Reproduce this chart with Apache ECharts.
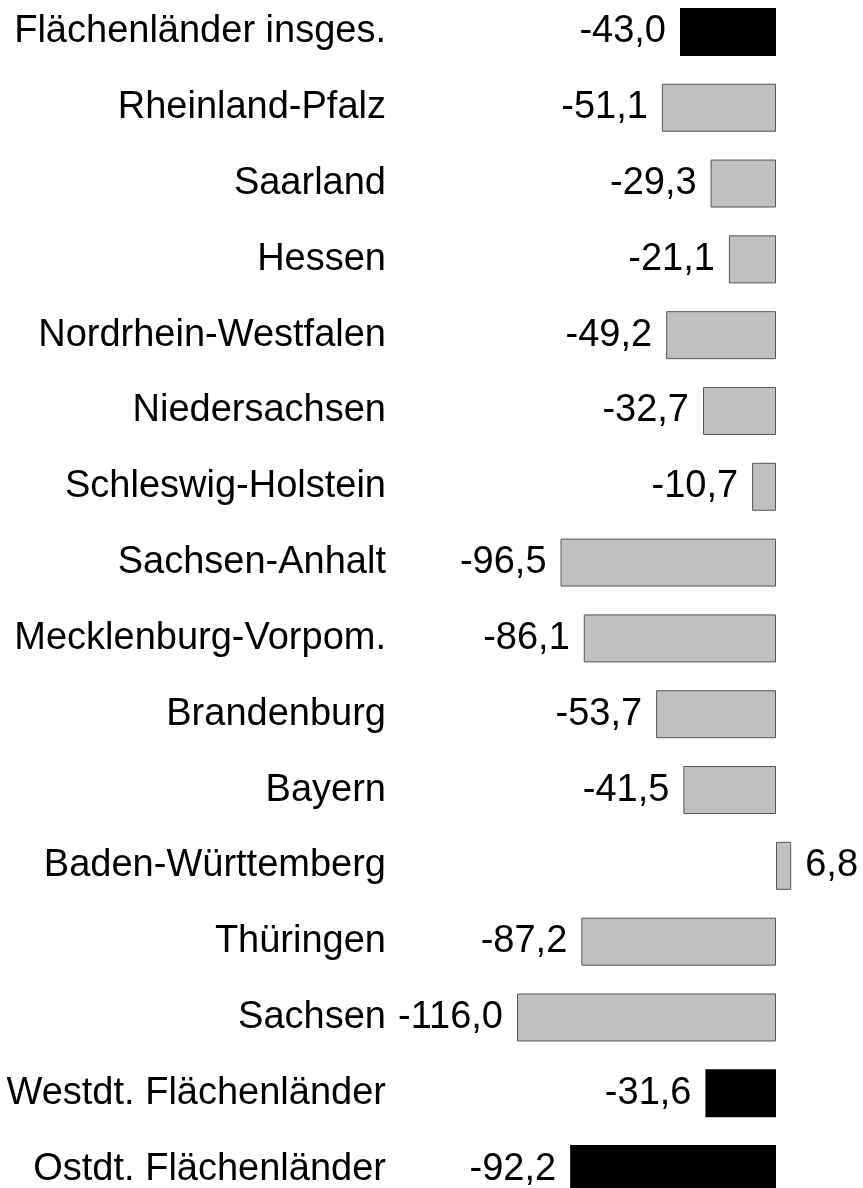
<!DOCTYPE html>
<html>
<head>
<meta charset="utf-8">
<script src="https://cdn.jsdelivr.net/npm/echarts@6/dist/echarts.min.js"></script>
<style>
  html, body { margin: 0; padding: 0; background: #fff; }
  #chart { width: 863px; height: 1188px; }
</style>
</head>
<body>
<div id="chart"></div>
<script>
// Kategorien von oben nach unten
const laender = [
  'Flächenländer insges.',
  'Rheinland-Pfalz',
  'Saarland',
  'Hessen',
  'Nordrhein-Westfalen',
  'Niedersachsen',
  'Schleswig-Holstein',
  'Sachsen-Anhalt',
  'Mecklenburg-Vorpom.',
  'Brandenburg',
  'Bayern',
  'Baden-Württemberg',
  'Thüringen',
  'Sachsen',
  'Westdt. Flächenländer',
  'Ostdt. Flächenländer'
];

const werte = [-43.0, -51.1, -29.3, -21.1, -49.2, -32.7, -10.7, -96.5, -86.1, -53.7, -41.5, 6.8, -87.2, -116.0, -31.6, -92.2];

// Summenzeilen werden schwarz gezeichnet
const summen = ['Flächenländer insges.', 'Westdt. Flächenländer', 'Ostdt. Flächenländer'];

const font = 'Liberation Sans, Arial, sans-serif';

let chart = echarts.init(document.getElementById('chart'), null, { renderer: 'canvas' });

let data = werte.map((v, i) => {
  let istSumme = summen.indexOf(laender[i]) >= 0;
  return {
    value: v,
    itemStyle: istSumme
      ? { color: '#000', borderColor: '#000', borderWidth: 0 }
      : { color: '#c0c0c0', borderColor: '#555', borderWidth: 1 },
    label: { position: v < 0 ? 'left' : 'right' }
  };
});

chart.setOption({
  backgroundColor: '#fff',
  animation: false,
  grid: { left: 400, right: 0, top: -6, height: 1213, outerBoundsMode: 'none', containLabel: false },
  xAxis: {
    type: 'value',
    min: -168.4,
    max: 38.96,
    show: false
  },
  yAxis: {
    type: 'category',
    data: laender,
    inverse: true,
    axisLine: { show: false },
    axisTick: { show: false },
    splitLine: { show: false },
    axisLabel: {
      margin: 14,
      color: '#000',
      fontSize: 38,
      fontFamily: font
    }
  },
  series: [{
    type: 'bar',
    data: data,
    barWidth: 48,
    label: {
      show: true,
      distance: 14,
      color: '#000',
      fontSize: 38,
      fontFamily: font,
      formatter: p => p.value.toFixed(1).replace('.', ',')
    }
  }]
});
</script>
</body>
</html>
